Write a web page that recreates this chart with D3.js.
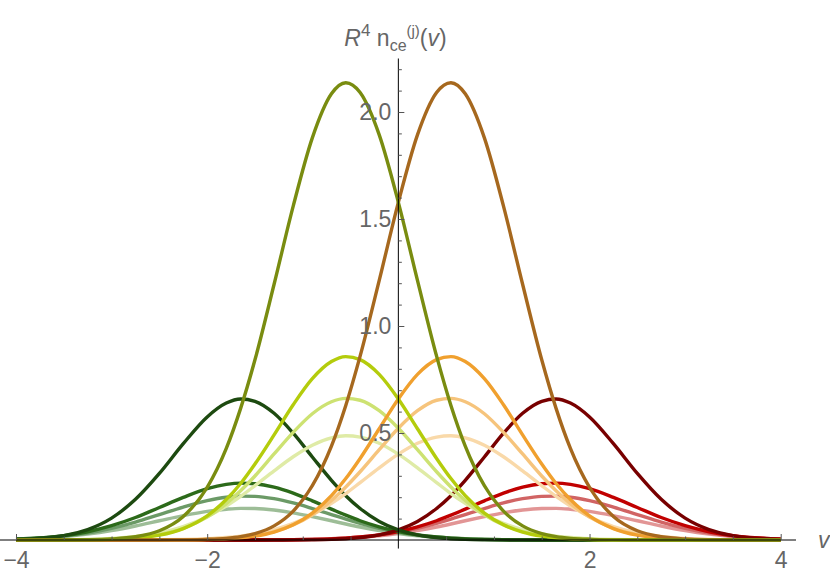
<!DOCTYPE html>
<html>
<head>
<meta charset="utf-8">
<script src="https://cdn.jsdelivr.net/npm/d3@7"></script>
<style>
  body { margin: 0; background: #fff; }
  svg { display: block; font-family: "Liberation Sans", Arial, sans-serif; }
  .tick text { fill: #666; font-size: 23px; }
</style>
</head>
<body>
<svg width="830" height="578"></svg>
<script>
// v grid shared by every curve
const vGrid = [-4, -3.5, -3.25, -3, -2.75, -2.5, -2.25, -2, -1.8, -1.65, -1.5, -1.3, -1.1, -0.9, -0.7, -0.55, -0.4, -0.2,
  0, 0.2, 0.4, 0.55, 0.7, 0.9, 1.1, 1.3, 1.5, 1.65, 1.8, 2, 2.25, 2.5, 2.75, 3, 3.25, 3.5, 4];

// green family (negative v)
const olive = [0, 0.0003, 0.0012, 0.0046, 0.015, 0.043, 0.110, 0.246, 0.428, 0.615, 0.842, 1.195, 1.560, 1.879, 2.085, 2.137, 2.091, 1.893,
  1.578, 1.213, 0.859, 0.629, 0.439, 0.254, 0.135, 0.066, 0.030, 0.0157, 0.0078, 0.0029, 0.0007, 0.0002, 0.0001, 0, 0, 0, 0];
const brightYellowGreen = [0, 0.0002, 0.0008, 0.0028, 0.0084, 0.0225, 0.0534, 0.113, 0.189, 0.264, 0.355, 0.491, 0.632, 0.754, 0.834, 0.857, 0.843, 0.774,
  0.659, 0.520, 0.381, 0.287, 0.207, 0.126, 0.071, 0.037, 0.018, 0.010, 0.0052, 0.0021, 0.0006, 0.0002, 0.0001, 0, 0, 0, 0];
const lightYellowGreen = [0, 0.0004, 0.0013, 0.0039, 0.0104, 0.0251, 0.0547, 0.107, 0.170, 0.230, 0.299, 0.402, 0.503, 0.590, 0.646, 0.662, 0.653, 0.604,
  0.522, 0.422, 0.319, 0.248, 0.185, 0.118, 0.0705, 0.0393, 0.0205, 0.012, 0.0068, 0.003, 0.001, 0.0003, 0.0001, 0, 0, 0, 0];
const paleYellowGreen = [0.0001, 0.0011, 0.0029, 0.0071, 0.0161, 0.0332, 0.0629, 0.109, 0.159, 0.204, 0.254, 0.323, 0.389, 0.443, 0.477, 0.487, 0.481, 0.452,
  0.401, 0.337, 0.268, 0.217, 0.171, 0.118, 0.0774, 0.048, 0.0281, 0.0182, 0.0114, 0.0058, 0.0023, 0.0008, 0.0003, 0.0001, 0, 0, 0];
const darkGreen = [0.0025, 0.0206, 0.0488, 0.1024, 0.190, 0.311, 0.450, 0.575, 0.640, 0.659, 0.648, 0.592, 0.499, 0.388, 0.279, 0.207, 0.147, 0.0866,
  0.0472, 0.0238, 0.011, 0.0059, 0.003, 0.0012, 0.0004, 0.0001, 0, 0, 0, 0, 0, 0, 0, 0, 0, 0, 0];
const mediumGreen = [0.0044, 0.0205, 0.0387, 0.0668, 0.105, 0.152, 0.199, 0.240, 0.260, 0.266, 0.263, 0.247, 0.219, 0.183, 0.144, 0.116, 0.090, 0.0616,
  0.0396, 0.024, 0.0138, 0.0087, 0.0054, 0.0027, 0.0012, 0.0005, 0.0002, 0.0001, 0, 0, 0, 0, 0, 0, 0, 0, 0];
const grayGreen = [0.0042, 0.0179, 0.0325, 0.0545, 0.0838, 0.119, 0.154, 0.184, 0.200, 0.205, 0.204, 0.193, 0.173, 0.147, 0.119, 0.0973, 0.0774, 0.0545,
  0.0363, 0.0229, 0.0137, 0.009, 0.0057, 0.003, 0.0015, 0.0007, 0.0003, 0.0002, 0.0001, 0, 0, 0, 0, 0, 0, 0, 0];
const paleGrayGreen = [0.0042, 0.0159, 0.0276, 0.0441, 0.0654, 0.0898, 0.114, 0.134, 0.144, 0.148, 0.147, 0.140, 0.127, 0.109, 0.0898, 0.0749, 0.0608, 0.0441,
  0.0305, 0.020, 0.0125, 0.0085, 0.0057, 0.0031, 0.0016, 0.0008, 0.0004, 0.0002, 0.0001, 0, 0, 0, 0, 0, 0, 0, 0];

// orange / red family (positive v)
const brown = [0, 0, 0, 0, 0.0001, 0.0002, 0.0007, 0.0029, 0.0078, 0.0157, 0.030, 0.066, 0.135, 0.254, 0.439, 0.629, 0.859, 1.213,
  1.578, 1.893, 2.091, 2.137, 2.085, 1.879, 1.560, 1.195, 0.842, 0.615, 0.428, 0.246, 0.110, 0.043, 0.015, 0.0046, 0.0012, 0.0003, 0];
const orange = [0, 0, 0, 0, 0.0001, 0.0002, 0.0006, 0.0021, 0.0052, 0.010, 0.018, 0.037, 0.071, 0.126, 0.207, 0.287, 0.381, 0.520,
  0.659, 0.774, 0.843, 0.857, 0.834, 0.754, 0.632, 0.491, 0.355, 0.264, 0.189, 0.113, 0.0534, 0.0225, 0.0084, 0.0028, 0.0008, 0.0002, 0];
const lightOrange = [0, 0, 0, 0, 0.0001, 0.0003, 0.001, 0.003, 0.0068, 0.012, 0.0205, 0.0393, 0.0705, 0.118, 0.185, 0.248, 0.319, 0.422,
  0.522, 0.604, 0.653, 0.662, 0.646, 0.590, 0.503, 0.402, 0.299, 0.230, 0.170, 0.107, 0.0547, 0.0251, 0.0104, 0.0039, 0.0013, 0.0004, 0];
const paleOrange = [0, 0, 0, 0.0001, 0.0003, 0.0008, 0.0023, 0.0058, 0.0114, 0.0182, 0.0281, 0.048, 0.0774, 0.118, 0.171, 0.217, 0.268, 0.337,
  0.401, 0.452, 0.481, 0.487, 0.477, 0.443, 0.389, 0.323, 0.254, 0.204, 0.159, 0.109, 0.0629, 0.0332, 0.0161, 0.0071, 0.0029, 0.0011, 0.0001];
const darkRed = [0, 0, 0, 0, 0, 0, 0, 0, 0, 0, 0, 0.0001, 0.0004, 0.0012, 0.003, 0.0059, 0.011, 0.0238,
  0.0472, 0.0866, 0.147, 0.207, 0.279, 0.388, 0.499, 0.592, 0.648, 0.659, 0.640, 0.575, 0.450, 0.311, 0.190, 0.1024, 0.0488, 0.0206, 0.0025];
const red = [0, 0, 0, 0, 0, 0, 0, 0, 0, 0.0001, 0.0002, 0.0005, 0.0012, 0.0027, 0.0054, 0.0087, 0.0138, 0.024,
  0.0396, 0.0616, 0.090, 0.116, 0.144, 0.183, 0.219, 0.247, 0.263, 0.266, 0.260, 0.240, 0.199, 0.152, 0.105, 0.0668, 0.0387, 0.0205, 0.0044];
const pinkRed = [0, 0, 0, 0, 0, 0, 0, 0, 0.0001, 0.0002, 0.0003, 0.0007, 0.0015, 0.003, 0.0057, 0.009, 0.0137, 0.0229,
  0.0363, 0.0545, 0.0774, 0.0973, 0.119, 0.147, 0.173, 0.193, 0.204, 0.205, 0.200, 0.184, 0.154, 0.119, 0.0838, 0.0545, 0.0325, 0.0179, 0.0042];
const palePink = [0, 0, 0, 0, 0, 0, 0, 0, 0.0001, 0.0002, 0.0004, 0.0008, 0.0016, 0.0031, 0.0057, 0.0085, 0.0125, 0.020,
  0.0305, 0.0441, 0.0608, 0.0749, 0.0898, 0.109, 0.127, 0.140, 0.147, 0.148, 0.144, 0.134, 0.114, 0.0898, 0.0654, 0.0441, 0.0276, 0.0159, 0.0042];

// draw order: first listed is at the bottom
const series = [
  {values: palePink, color: "#e29595"},
  {values: paleGrayGreen, color: "#9dbd97"},
  {values: pinkRed, color: "#d16464"},
  {values: grayGreen, color: "#6b9a66"},
  {values: red, color: "#c10000"},
  {values: mediumGreen, color: "#2c6a1a"},
  {values: darkRed, color: "#780000"},
  {values: darkGreen, color: "#1d4a10"},
  {values: paleOrange, color: "#f9d9a9"},
  {values: paleYellowGreen, color: "#dfeba6"},
  {values: lightOrange, color: "#f6c47c"},
  {values: lightYellowGreen, color: "#cde272"},
  {values: orange, color: "#f0a02e"},
  {values: brightYellowGreen, color: "#b4cc0c"},
  {values: brown, color: "#a6681e"},
  {values: olive, color: "#798c10"}
];

const xLabelTicks = [-4, -2, 2, 4];
const xMinorTicks = [-3.5, -3, -2.5, -1.5, -1, -0.5, 0.5, 1, 1.5, 2.5, 3, 3.5];
const yLabelTicks = [0.5, 1.0, 1.5, 2.0];
const yMinorTicks = [0.1, 0.2, 0.3, 0.4, 0.6, 0.7, 0.8, 0.9, 1.1, 1.2, 1.3, 1.4, 1.6, 1.7, 1.8, 1.9, 2.1, 2.2];

const svg = d3.select("svg");

let x = d3.scaleLinear().domain([-4, 4]).range([16, 780.7]);
let y = d3.scaleLinear().domain([0, 2.2]).range([540, 69.2]);

let line = d3.line()
  .x((d, i) => x(vGrid[i]))
  .y(d => y(d))
  .curve(d3.curveMonotoneX);

svg.append("g")
  .selectAll("path")
  .data(series)
  .enter()
  .append("path")
  .attr("d", d => line(d.values))
  .attr("fill", "none")
  .attr("stroke", d => d.color)
  .attr("stroke-width", 3.4)
  .attr("stroke-linejoin", "round");

// axis lines (Mathematica style, crossing at origin)
svg.append("line")
  .attr("x1", x(-4.17)).attr("x2", x(4.16))
  .attr("y1", y(0)).attr("y2", y(0))
  .attr("stroke", "#000").attr("stroke-width", 1);
svg.append("line")
  .attr("x1", x(0)).attr("x2", x(0))
  .attr("y1", y(-0.04)).attr("y2", y(2.25))
  .attr("stroke", "#000").attr("stroke-width", 1);

// x ticks point up, labels below
let xAxis = svg.append("g")
  .attr("transform", `translate(0, ${y(0)})`)
  .call(d3.axisBottom(x).tickValues(xLabelTicks).tickSize(-6).tickPadding(12).tickFormat(d3.format("d")));
let xMinor = svg.append("g")
  .attr("transform", `translate(0, ${y(0)})`)
  .call(d3.axisBottom(x).tickValues(xMinorTicks).tickSize(-3.5).tickFormat(""));

// y ticks point right, labels left
let yAxis = svg.append("g")
  .attr("transform", `translate(${x(0)}, 0)`)
  .call(d3.axisLeft(y).tickValues(yLabelTicks).tickSize(-6).tickPadding(7).tickFormat(d3.format(".1f")));
let yMinor = svg.append("g")
  .attr("transform", `translate(${x(0)}, 0)`)
  .call(d3.axisLeft(y).tickValues(yMinorTicks).tickSize(-3.5).tickFormat(""));

svg.selectAll(".domain").remove();
svg.selectAll(".tick line").attr("stroke", "#555").attr("stroke-width", 1);
svg.selectAll(".tick text").attr("font-family", "'Liberation Sans', Arial, sans-serif");

// axis labels
svg.append("text")
  .attr("x", x(4.16) + 22)
  .attr("y", y(0) + 8)
  .attr("fill", "#666")
  .style("font-size", "23px")
  .style("font-style", "italic")
  .text("v");

let yLab = svg.append("text")
  .attr("x", x(0) - 54)
  .attr("y", 46)
  .attr("fill", "#666")
  .style("font-size", "23px");
yLab.append("tspan").style("font-style", "italic").text("R");
yLab.append("tspan").attr("dy", -10).style("font-size", "17px").text("4");
yLab.append("tspan").attr("dy", 10).text(" n");
yLab.append("tspan").attr("dy", 5).style("font-size", "16px").text("ce");
yLab.append("tspan").attr("dy", -15).style("font-size", "15px").text("(j)");
yLab.append("tspan").attr("dy", 10).text("(");
yLab.append("tspan").style("font-style", "italic").text("v");
yLab.append("tspan").text(")");
</script>
</body>
</html>
